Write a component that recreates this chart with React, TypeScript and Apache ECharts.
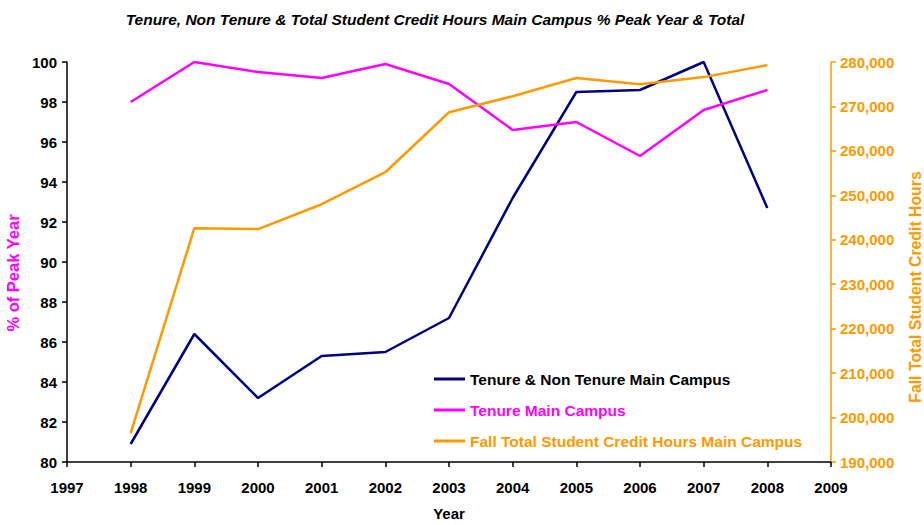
import React, { useEffect, useRef } from "react";
import * as echarts from "echarts";

const years = [1998, 1999, 2000, 2001, 2002, 2003, 2004, 2005, 2006, 2007, 2008];
const tenureNonTenure = [80.9, 86.4, 83.2, 85.3, 85.5, 87.2, 93.2, 98.5, 98.6, 100, 92.7];
const tenure = [98.0, 100, 99.5, 99.2, 99.9, 98.9, 96.6, 97.0, 95.3, 97.6, 98.6];
const creditHours = [196500, 242600, 242400, 248000, 255200, 268700, 272300, 276400, 275000, 276600, 279300];

const NAVY = "#000080";
const MAGENTA = "#FF00FF";
const ORANGE = "#FF9900";
const FONT = "Liberation Sans, Arial, sans-serif";
const NARROW = "Liberation Sans Narrow, Liberation Sans, Arial, sans-serif";

export default function App() {
  const ref = useRef<HTMLDivElement>(null);
  useEffect(() => {
    document.body.style.margin = "0";
    document.body.style.overflow = "hidden";
    if (!ref.current) return;
    const chart = echarts.init(ref.current, undefined, { renderer: "svg" });
    chart.setOption({
      animation: false,
      backgroundColor: "#fff",
      title: {
        text: "Tenure, Non Tenure & Total Student Credit Hours Main Campus % Peak Year & Total",
        left: 430,
        textAlign: "center",
        top: 6,
        textStyle: { fontFamily: NARROW, fontStyle: "italic", fontWeight: "bold", fontSize: 15.5, color: "#000" },
      },
      graphic: [
        {
          type: "text",
          x: 13,
          y: 273,
          rotation: Math.PI / 2,
          style: {
            text: "% of Peak Year",
            fill: MAGENTA,
            fontFamily: FONT,
            fontWeight: "bold",
            fontSize: 16.5,
            align: "center",
            verticalAlign: "middle",
          },
        },
        {
          type: "text",
          x: 915,
          y: 287,
          rotation: Math.PI / 2,
          style: {
            text: "Fall Total Student Credit Hours",
            fill: ORANGE,
            fontFamily: FONT,
            fontWeight: "bold",
            fontSize: 15.8,
            align: "center",
            verticalAlign: "middle",
          },
        },
      ],
      grid: { left: 67, right: 93, top: 62, bottom: 63, outerBoundsMode: "none", containLabel: false },
      legend: {
        orient: "vertical",
        left: 429,
        top: 366,
        itemGap: 15,
        itemWidth: 31,
        itemHeight: 3,
        icon: "rect",
        textStyle: { fontFamily: FONT, fontWeight: "bold", fontSize: 15.5 },
        data: [
          { name: "Tenure & Non Tenure Main Campus", textStyle: { color: "#000" } },
          { name: "Tenure Main Campus", textStyle: { color: MAGENTA } },
          { name: "Fall Total Student Credit Hours Main Campus", textStyle: { color: ORANGE } },
        ],
      },
      xAxis: {
        type: "value",
        min: 1997,
        max: 2009,
        interval: 1,
        name: "Year",
        nameLocation: "middle",
        nameGap: 44,
        nameTextStyle: { fontFamily: NARROW, fontWeight: "bold", fontSize: 15, color: "#000" },
        axisLine: { lineStyle: { color: "#000", width: 1.5 } },
        axisTick: { lineStyle: { color: "#000", width: 1.5 }, length: 5 },
        axisLabel: {
          fontFamily: NARROW,
          fontWeight: "bold",
          fontSize: 15,
          color: "#000",
          margin: 18,
          formatter: (v: number) => String(v),
        },
        splitLine: { show: false },
      },
      yAxis: [
        {
          type: "value",
          min: 80,
          max: 100,
          interval: 2,
          position: "left",
          axisLine: { show: true, lineStyle: { color: "#000", width: 1.5 } },
          axisTick: { show: true, lineStyle: { color: "#000", width: 1.5 }, length: 5 },
          axisLabel: { fontFamily: FONT, fontWeight: "bold", fontSize: 15, color: "#000", margin: 10 },
          splitLine: { show: false },
        },
        {
          type: "value",
          min: 190000,
          max: 280000,
          interval: 10000,
          position: "right",
          axisLine: { show: true, lineStyle: { color: ORANGE, width: 1.5 } },
          axisTick: { show: true, lineStyle: { color: ORANGE, width: 1.5 }, length: 5 },
          axisLabel: {
            fontFamily: FONT,
            fontWeight: "bold",
            fontSize: 15,
            color: ORANGE,
            margin: 9,
            formatter: (v: number) => v.toLocaleString("en-US"),
          },
          splitLine: { show: false },
        },
      ],
      series: [
        {
          name: "Tenure & Non Tenure Main Campus",
          type: "line",
          yAxisIndex: 0,
          data: years.map((y, i) => [y, tenureNonTenure[i]]),
          showSymbol: false,
          lineStyle: { color: NAVY, width: 2.5 },
          itemStyle: { color: NAVY },
        },
        {
          name: "Tenure Main Campus",
          type: "line",
          yAxisIndex: 0,
          data: years.map((y, i) => [y, tenure[i]]),
          showSymbol: false,
          lineStyle: { color: MAGENTA, width: 2.5 },
          itemStyle: { color: MAGENTA },
        },
        {
          name: "Fall Total Student Credit Hours Main Campus",
          type: "line",
          yAxisIndex: 1,
          data: years.map((y, i) => [y, creditHours[i]]),
          showSymbol: false,
          lineStyle: { color: ORANGE, width: 2.5 },
          itemStyle: { color: ORANGE },
        },
      ],
    });
    return () => chart.dispose();
  }, []);
  return <div ref={ref} style={{ width: 924, height: 525 }} />;
}
